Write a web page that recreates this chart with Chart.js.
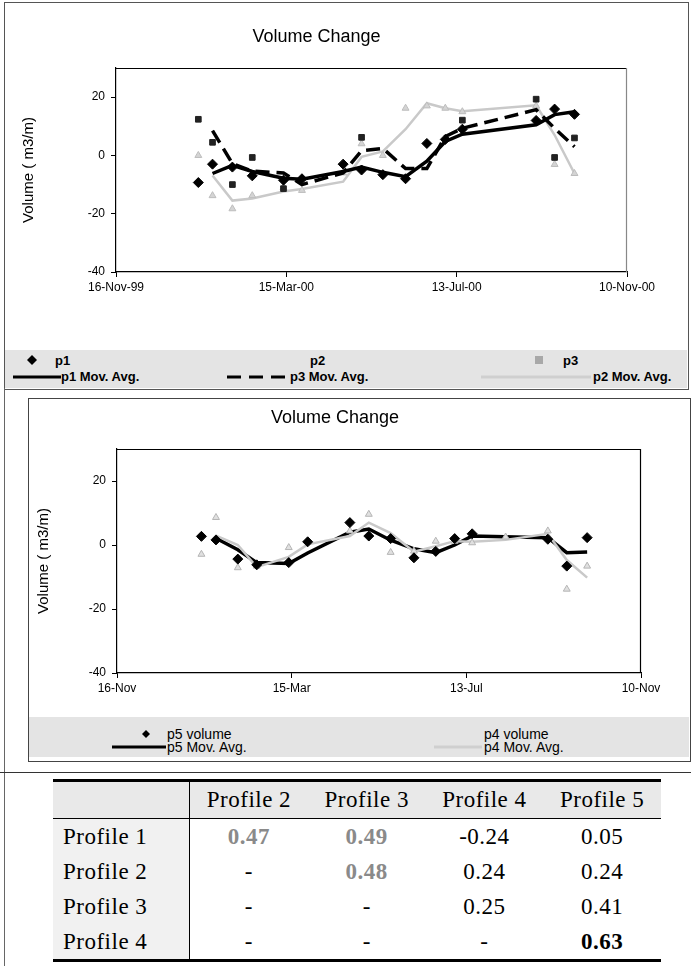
<!DOCTYPE html>
<html>
<head>
<meta charset="utf-8">
<script src="https://cdn.jsdelivr.net/npm/chart.js@4/dist/chart.umd.min.js"></script>
<style>
  body { margin:0; width:691px; height:972px; position:relative; background:#fff; overflow:hidden; font-family:"Liberation Sans", Arial, sans-serif; }
  .abs { position:absolute; }
  .legend { position:absolute; background:#e4e4e4; font-family:"Liberation Sans", Arial, sans-serif; font-size:13px; font-weight:bold; color:#000; }
  .li { position:absolute; white-space:nowrap; line-height:13px; }
  .li svg { position:absolute; }
  table.corr { border-collapse:collapse; font-family:"Liberation Serif", "Times New Roman", serif; font-size:23px; color:#000; }
  table.corr td { height:35px; padding:0; text-align:center; letter-spacing:0.5px; }
  table.corr td.rl { text-align:left; padding-left:10px; background:#f1f1f1; border-right:1px solid #000; }
  table.corr tr.hd td { background:#e9e9e9; border-bottom:1.5px solid #000; height:36px; }
  .g { color:#8a8a8a; font-weight:bold; }
  .b { font-weight:bold; }
</style>
</head>
<body>
<script>
// ---------------- DATA ----------------
// Chart 1 (profiles 1-3): sample dates as days after 16-Nov-99
const topDays   = [58, 68, 82, 96, 118, 131, 160, 173, 188, 204, 219, 232, 244, 296, 309, 323];
const p1Volume  = [-9.3, -3, -4, -7, -8.5, -8, -3, -5, -6.6, -8, 4.1, 5.5, 9, 12, 15.9, 14.1];
const p1MovAvg  = [null, -6.2, -3.4, -5.5, -7.8, -8.2, -5.5, -4, -5.8, -7.3, -2, 4.8, 7.3, 10.5, 14, 15];
const p2Volume  = [0, -13.8, -18.3, -13.8, -11, -12, -6, 4, 0, 16.2, 17, 16.2, 15, 17, -3.1, -6.2];
const p2MovAvg  = [null, -6.9, -15.5, -14.8, -12.4, -11.5, -9, -0.5, 1.4, 9, 17.9, 16.2, 15.2, 17.2, 7, -6.2];
const p3Volume  = [12.4, 4.5, -10, -0.7, -11.4, null, null, 6.2, null, null, null, null, 12.1, 19.3, -0.7, 6];
const p3MovAvg  = [null, 8.5, -2.8, -5.4, -6, -10, -6, 1.6, 2.4, -4.5, -4.5, 6.5, 9.3, 15.7, 9.3, 3];
const topTickDays   = [0, 120, 240, 360];
const topTickLabels = ['16-Nov-99', '15-Mar-00', '13-Jul-00', '10-Nov-00'];

// Chart 2 (profiles 4-5)
const botDays   = [58, 68, 83, 96, 118, 131, 160, 173, 188, 204, 219, 232, 244, 267, 296, 309, 323];
const p5Volume  = [2.7, 1.6, -4.4, -6.2, -5.5, 1, 7, 2.8, 2, -4, -2, 2, 3.5, null, 1.8, -6.6, 2.3];
const p5MovAvg  = [null, 2.1, -1.5, -5.5, -5.8, -2.5, 4, 5, 1.5, -1.2, -2.4, 0, 2.8, null, 2.3, -2.4, -2.2];
const p4Volume  = [-2.9, 8.6, -7.1, -6.6, -0.8, 1.2, 4.4, 9.6, -2.3, -1.9, 1.2, 1.2, 0.7, 2.5, 4.4, -13.8, -6.6];
const p4MovAvg  = [null, 2.9, 0, -6.9, -3.7, 0.2, 2.8, 7, 3.7, -2.1, -0.4, 1.2, 1, 1.6, 3.5, -4.7, -10.2];
const botTickDays   = [0, 120, 240, 360];
const botTickLabels = ['16-Nov', '15-Mar', '13-Jul', '10-Nov'];

const yTickValues = [-40, -20, 0, 20];

// Correlation table
const tableCols = ['Profile 2', 'Profile 3', 'Profile 4', 'Profile 5'];
const tableRows = ['Profile 1', 'Profile 2', 'Profile 3', 'Profile 4'];
const tableVals = [
  ['0.47', '0.49', '-0.24', '0.05'],
  ['-', '0.48', '0.24', '0.24'],
  ['-', '-', '0.25', '0.41'],
  ['-', '-', '-', '0.63']
];
const tableStyle = [
  ['g', 'g', '', ''],
  ['', 'g', '', ''],
  ['', '', '', ''],
  ['', '', '', 'b']
];
</script>

<!-- frames -->
<div class="abs" style="left:4px;top:2px;width:683px;height:386px;border:1px solid #555;"></div>
<div class="abs" style="left:4px;top:388px;width:1px;height:578px;background:#666;"></div>
<div class="abs" style="left:28px;top:398px;width:661px;height:362px;border:1px solid #444;"></div>
<div class="abs" style="left:0px;top:772px;width:691px;height:1px;background:#333;"></div>

<div class="abs" style="left:6px;top:4px;"><canvas id="c1" width="681" height="300"></canvas></div>
<div class="abs" style="left:29px;top:399px;"><canvas id="c2" width="660" height="306"></canvas></div>

<!-- legend 1 -->
<div class="legend" style="left:5px;top:350px;width:682px;height:38px;">
  <div class="li" style="left:22px;top:4px;"><svg width="10" height="10" style="left:0;top:1px"><polygon points="5,0 10,5 5,10 0,5" fill="#000"/></svg><span style="margin-left:28px">p1</span></div>
  <div class="li" style="left:305px;top:4px;"><span>p2</span></div>
  <div class="li" style="left:530px;top:4px;"><svg width="8" height="8" style="left:0;top:2px"><rect x="0" y="0" width="8" height="8" fill="#a8a8a8"/></svg><span style="margin-left:28px">p3</span></div>
  <div class="li" style="left:8px;top:20px;"><svg width="48" height="6" style="left:0;top:4px"><line x1="0" y1="3" x2="48" y2="3" stroke="#000" stroke-width="3"/></svg><span style="margin-left:48px">p1 Mov. Avg.</span></div>
  <div class="li" style="left:222px;top:20px;"><svg width="60" height="6" style="left:0;top:4px"><line x1="0" y1="3" x2="60" y2="3" stroke="#000" stroke-width="3" stroke-dasharray="14,8"/></svg><span style="margin-left:63px">p3 Mov. Avg.</span></div>
  <div class="li" style="left:476px;top:20px;"><svg width="110" height="6" style="left:0;top:4px"><line x1="0" y1="3" x2="110" y2="3" stroke="#cfcfcf" stroke-width="3"/></svg><span style="margin-left:112px">p2 Mov. Avg.</span></div>
</div>

<!-- legend 2 -->
<div class="legend" style="left:29px;top:717px;width:660px;height:40px;font-weight:normal;font-size:14px;">
  <div class="li" style="left:113px;top:11px;"><svg width="8" height="8" style="left:0;top:2px"><polygon points="4,0 8,4 4,8 0,4" fill="#000"/></svg><span style="margin-left:25px">p5 volume</span></div>
  <div class="li" style="left:455px;top:11px;"><span>p4 volume</span></div>
  <div class="li" style="left:83px;top:24px;"><svg width="54" height="6" style="left:0;top:3px"><line x1="0" y1="3" x2="54" y2="3" stroke="#000" stroke-width="3"/></svg><span style="margin-left:55px">p5 Mov. Avg.</span></div>
  <div class="li" style="left:405px;top:24px;"><svg width="48" height="6" style="left:0;top:3px"><line x1="0" y1="3" x2="48" y2="3" stroke="#cfcfcf" stroke-width="3"/></svg><span style="margin-left:50px">p4 Mov. Avg.</span></div>
</div>

<!-- table -->
<div class="abs" style="left:53px;top:779px;width:608px;border-top:3px solid #000;border-bottom:3px solid #000;">
  <table class="corr" id="tbl" style="width:608px;"></table>
</div>

<script>
// build table
(function(){
  const t = document.getElementById('tbl');
  let h = '<tr class="hd"><td class="rl" style="width:126px;background:#e9e9e9"></td>';
  tableCols.forEach(c => { h += '<td>' + c + '</td>'; });
  h += '</tr>';
  tableRows.forEach((r, i) => {
    h += '<tr><td class="rl">' + r + '</td>';
    tableVals[i].forEach((v, j) => {
      const cls = tableStyle[i][j];
      h += '<td' + (cls ? ' class="' + cls + '"' : '') + '>' + v + '</td>';
    });
    h += '</tr>';
  });
  t.innerHTML = h;
})();

const FONT = 'Liberation Sans';
function pts(xs, ys) {
  return xs.map((x, i) => ({ x: x, y: ys[i] })).filter(p => p.y !== null && p.y !== undefined);
}

const framePlugin = {
  id: 'frame',
  afterDraw(chart, args, opts) {
    const a = chart.chartArea, ctx = chart.ctx;
    ctx.save();
    ctx.lineWidth = 1.2;
    ctx.strokeStyle = opts.topColor || '#000';
    ctx.beginPath(); ctx.moveTo(a.left, a.top + 0.5); ctx.lineTo(a.right, a.top + 0.5); ctx.stroke();
    ctx.strokeStyle = opts.rightColor || '#000';
    ctx.beginPath(); ctx.moveTo(a.right - 0.5, a.top); ctx.lineTo(a.right - 0.5, a.bottom); ctx.stroke();
    ctx.restore();
  }
};

function makeOptions(o) {
  return {
    responsive: false,
    animation: false,
    events: [],
    layout: { padding: { top: o.padTop, left: 0, right: o.padRight, bottom: 0 } },
    plugins: {
      legend: { display: false },
      tooltip: { enabled: false },
      title: { display: true, text: 'Volume Change', color: '#000',
               font: { family: FONT, size: 18, weight: 'normal' }, padding: { top: 0, bottom: 20.4 } },
      frame: { topColor: '#000', rightColor: o.rightColor }
    },
    scales: {
      x: {
        type: 'linear', min: 0, max: 360,
        afterBuildTicks: s => { s.ticks = o.tickDays.map(v => ({ value: v })); },
        afterFit: s => { s.height = 32; },
        ticks: { autoSkip: false, maxRotation: 0, padding: 3, color: '#000',
                 font: { family: FONT, size: 12 },
                 callback: v => o.tickLabels[o.tickDays.indexOf(v)] },
        grid: { drawOnChartArea: false, tickLength: 5, color: '#000', tickColor: '#000' },
        border: { color: '#000', width: 1.2 }
      },
      y: {
        type: 'linear', min: -40, max: 30,
        afterBuildTicks: s => { s.ticks = yTickValues.map(v => ({ value: v })); },
        afterFit: s => { s.width = o.yWidth; },
        ticks: { padding: 6, color: '#000', font: { family: FONT, size: 12 } },
        grid: { drawOnChartArea: false, tickLength: 5, color: '#000', tickColor: '#000' },
        border: { color: '#000', width: 1.2 },
        title: { display: true, text: 'Volume ( m3/m)', color: '#000',
                 font: { family: FONT, size: 15 }, padding: { top: o.yTitlePad, bottom: 0 } }
      }
    }
  };
}

const LIGHT = '#c9c9c9';

new Chart(document.getElementById('c1'), {
  type: 'scatter',
  plugins: [framePlugin],
  data: {
    datasets: [
      { label: 'p2 Mov. Avg.', data: pts(topDays, p2MovAvg), showLine: true, pointRadius: 0,
        borderColor: LIGHT, borderWidth: 2.5, order: 6 },
      { label: 'p2', data: pts(topDays, p2Volume), pointStyle: 'triangle', pointRadius: 4,
        backgroundColor: '#d4d4d4', borderColor: '#bdbdbd', borderWidth: 1, order: 5 },
      { label: 'p3 Mov. Avg.', data: pts(topDays, p3MovAvg), showLine: true, pointRadius: 0,
        borderColor: '#000', borderWidth: 3.5, borderDash: [14, 7], order: 4 },
      { label: 'p1 Mov. Avg.', data: pts(topDays, p1MovAvg), showLine: true, pointRadius: 0,
        borderColor: '#000', borderWidth: 3.5, order: 3 },
      { label: 'p3', data: pts(topDays, p3Volume), pointStyle: 'rect', pointRadius: 4,
        backgroundColor: '#222', borderColor: '#222', borderWidth: 1, order: 2 },
      { label: 'p1', data: pts(topDays, p1Volume), pointStyle: 'rectRot', pointRadius: 5,
        backgroundColor: '#000', borderColor: '#000', borderWidth: 1, order: 1 }
    ]
  },
  options: makeOptions({ padTop: 22, padRight: 60, yWidth: 110, yTitlePad: 14,
                         tickDays: topTickDays, tickLabels: topTickLabels, rightColor: '#888' })
});

new Chart(document.getElementById('c2'), {
  type: 'scatter',
  plugins: [framePlugin],
  data: {
    datasets: [
      { label: 'p5 Mov. Avg.', data: pts(botDays, p5MovAvg), showLine: true, pointRadius: 0,
        borderColor: '#000', borderWidth: 3.5, order: 4 },
      { label: 'p4 Mov. Avg.', data: pts(botDays, p4MovAvg), showLine: true, pointRadius: 0,
        borderColor: LIGHT, borderWidth: 2.5, order: 3 },
      { label: 'p4 volume', data: pts(botDays, p4Volume), pointStyle: 'triangle', pointRadius: 4,
        backgroundColor: '#e0e0e0', borderColor: '#b5b5b5', borderWidth: 1, order: 2 },
      { label: 'p5 volume', data: pts(botDays, p5Volume), pointStyle: 'rectRot', pointRadius: 5,
        backgroundColor: '#000', borderColor: '#000', borderWidth: 1, order: 1 }
    ]
  },
  options: makeOptions({ padTop: 8, padRight: 48, yWidth: 88, yTitlePad: 6,
                         tickDays: botTickDays, tickLabels: botTickLabels, rightColor: '#000' })
});
</script>
</body>
</html>
